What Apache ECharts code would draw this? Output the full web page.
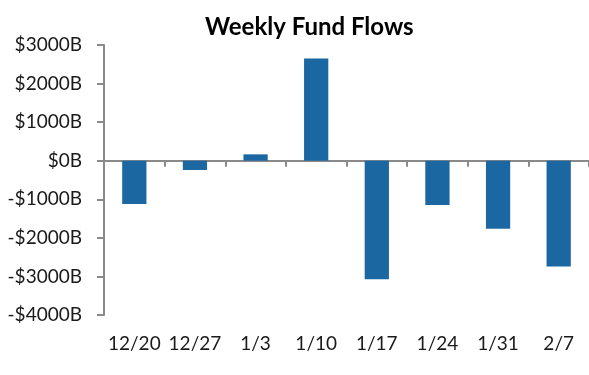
<!DOCTYPE html>
<html>
<head>
<meta charset="utf-8">
<script src="https://cdn.jsdelivr.net/npm/echarts@6/dist/echarts.min.js"></script>
<style>
  html, body { margin: 0; padding: 0; background: #fff; }
</style>
</head>
<body>
<div id="main" style="width: 589px;height:375px;"></div>
<script>
    var weeks = ['12/20', '12/27', '1/3', '1/10', '1/17', '1/24', '1/31', '2/7'];
    var flows = [-1120, -240, 165, 2650, -3075, -1145, -1765, -2740];
    var yMin = -4000, yMax = 3000, yStep = 1000;

    var axisGray = '#8a8a8a';
    var textColor = '#1a1a1a';
    var fontFam = 'Lato, "Noto Sans", sans-serif';

    var myChart = echarts.init(document.getElementById('main'));

    var option = {
        backgroundColor: '#FFFFFF',
        animation: false,
        title: {
            text: 'Weekly Fund Flows',
            left: 200,
            top: 10,
            textStyle: {color: '#000', fontSize: 24, fontWeight: 'bold', fontFamily: fontFam}
        },
        grid: {left: 104, right: 0, top: 45, bottom: 60},
        xAxis: [{
            // zero line with the category ticks
            type: 'category',
            data: weeks,
            axisLine: {onZero: true, lineStyle: {color: axisGray, width: 2}},
            axisTick: {show: true, length: 6, lineStyle: {color: axisGray, width: 2}},
            axisLabel: {show: false}
        }, {
            // labels at the bottom
            type: 'category',
            data: weeks,
            position: 'bottom',
            axisLine: {show: false, onZero: false},
            axisTick: {show: false},
            axisLabel: {color: textColor, fontSize: 19, fontFamily: fontFam, margin: 19, interval: 0}
        }],
        yAxis: {
            type: 'value',
            min: yMin,
            max: yMax,
            interval: yStep,
            axisLine: {show: true, lineStyle: {color: axisGray, width: 2}},
            axisTick: {show: true, length: 7, lineStyle: {color: axisGray, width: 2}},
            splitLine: {show: false},
            axisLabel: {
                color: textColor, fontSize: 19, fontFamily: fontFam, margin: 22,
                formatter: function (v) {
                    return (v < 0 ? '-$' + (-v) : '$' + v) + 'B';
                }
            }
        },
        series: [{
            type: 'bar',
            data: flows,
            xAxisIndex: 0,
            barWidth: '40%',
            itemStyle: {color: '#1b67a1'}
        }]
    };

    myChart.setOption(option);
</script>
</body>
</html>
